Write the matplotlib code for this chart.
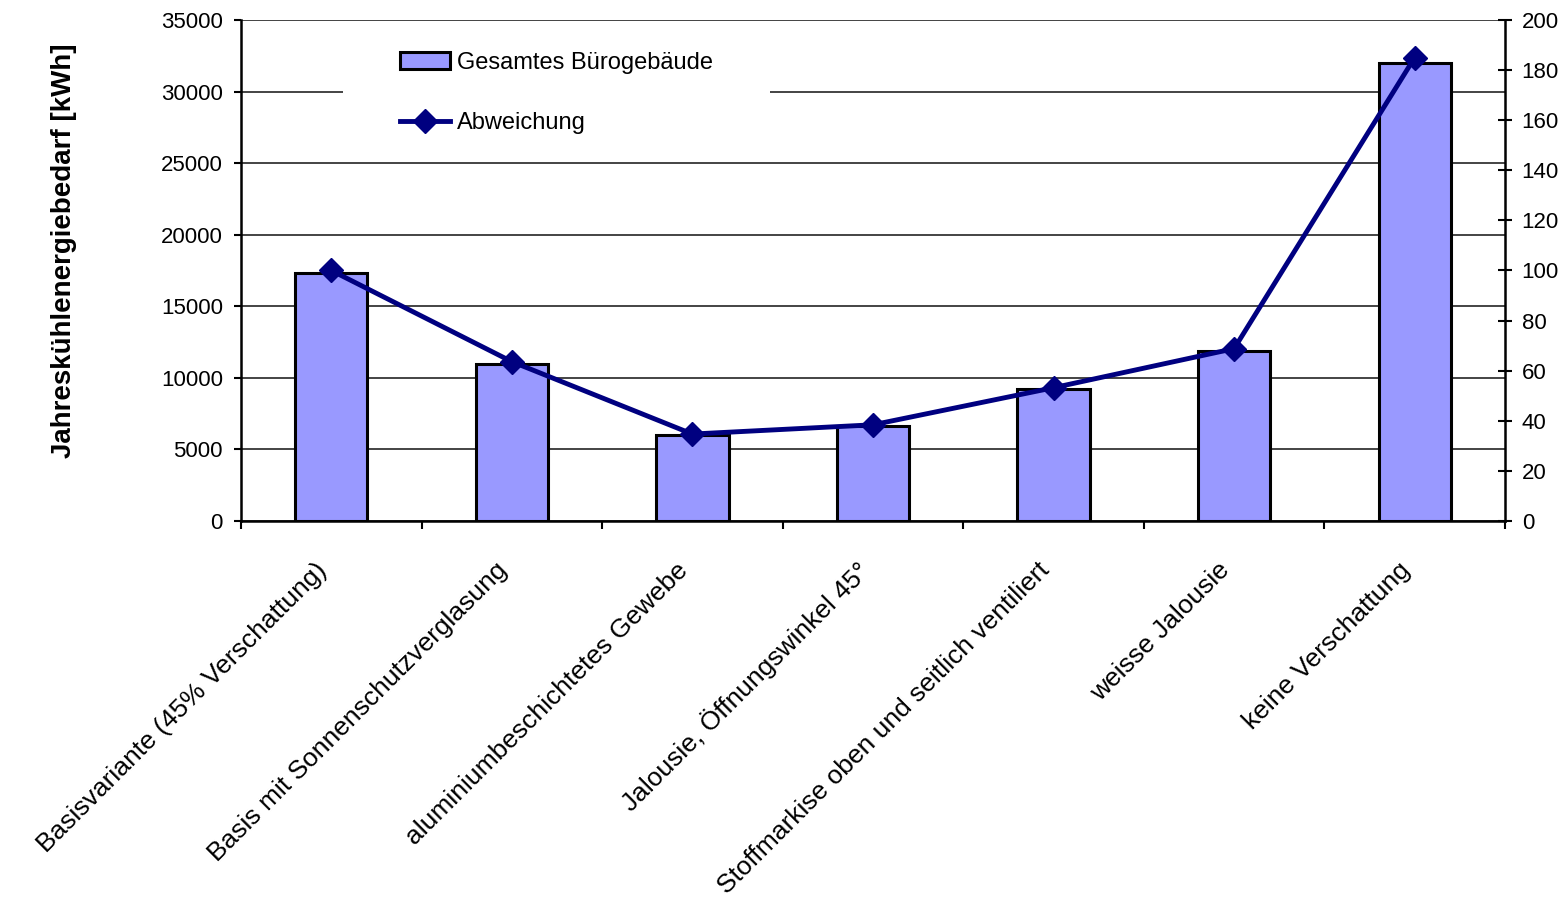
import matplotlib.pyplot as plt
import matplotlib.transforms as mtransforms
from matplotlib.patches import Rectangle
import numpy as np

plt.rcParams['font.family'] = ['Liberation Sans', 'DejaVu Sans']

# Varianten der Verschattung
varianten = ['Basisvariante (45% Verschattung)',
             'Basis mit Sonnenschutzverglasung',
             'aluminiumbeschichtetes Gewebe',
             'Jalousie, Öffnungswinkel 45°',
             'Stoffmarkise oben und seitlich ventiliert',
             'weisse Jalousie',
             'keine Verschattung']
# Jahreskühlenergiebedarf gesamtes Bürogebäude [kWh]
kuehlbedarf = [17300, 11000, 6000, 6650, 9200, 11900, 32000]
# Abweichung gegenüber Basisvariante [%]
abweichung = [100, 63.6, 34.7, 38.4, 53.2, 68.8, 185]

x = np.arange(len(varianten))

fig = plt.figure(figsize=(15.68, 9.07), dpi=100)
ax = fig.add_axes([0.1537, 0.4256, 0.8061, 0.5524])

ax.set_axisbelow(True)
ax.yaxis.grid(True, color='#111111', linewidth=1.1)
ax.bar(x, kuehlbedarf, width=0.4, color='#9999ff', edgecolor='black',
       linewidth=2.2, label='Gesamtes Bürogebäude', zorder=2)

ax.set_xlim(-0.5, len(varianten) - 0.5)
ax.set_ylim(0, 35000)
ax.set_yticks(np.arange(0, 35001, 5000))
ax.tick_params(axis='y', direction='out', length=5, width=1.5, labelsize=16, pad=8)

ax.set_xticks(x)
ax.set_xticklabels(varianten, rotation=45, ha='right', va='center',
                   rotation_mode='anchor', fontsize=19)
ax.tick_params(axis='x', which='major', length=0, pad=33)
shift = mtransforms.ScaledTranslation(-8 / 100, 0, fig.dpi_scale_trans)
for lbl in ax.get_xticklabels():
    lbl.set_transform(lbl.get_transform() + shift)
ax.set_xticks(np.arange(-0.5, len(varianten)), minor=True)
ax.tick_params(axis='x', which='minor', direction='out', length=6, width=1.5)

for side in ['left', 'bottom']:
    ax.spines[side].set_linewidth(1.8)
ax.spines['top'].set_visible(False)
ax.spines['right'].set_visible(False)

ax.set_ylabel('Jahreskühlenergiebedarf [kWh]', fontsize=20, fontweight='bold')
ax.yaxis.set_label_coords(-0.13, 0.54)

ax2 = ax.twinx()
ax2.plot(x, abweichung, color='#000080', linewidth=3.5, marker='D',
         markersize=12, label='Abweichung', zorder=3)
ax2.set_ylim(0, 200)
ax2.set_yticks(np.arange(0, 201, 20))
ax2.tick_params(axis='y', direction='inout', length=10, width=1.5,
                labelsize=16, pad=7)
ax2.spines['right'].set_linewidth(1.8)
for side in ['left', 'top', 'bottom']:
    ax2.spines[side].set_visible(False)

# weisser Hintergrund hinter der Legende
ax2.add_patch(Rectangle((0.0807, 0.74), 0.3378, 0.24, transform=ax2.transAxes,
                        facecolor='white', edgecolor='none', zorder=4))

h1, l1 = ax.get_legend_handles_labels()
h2, l2 = ax2.get_legend_handles_labels()
leg = ax2.legend(h1 + h2, l1 + l2, loc='upper left', bbox_to_anchor=(0.1258, 0.937),
                 fontsize=17, frameon=False, handlelength=2.1, handletextpad=0.3,
                 labelspacing=1.65, borderpad=0, borderaxespad=0)
leg.set_zorder(5)

fig.savefig('out.png', dpi=100)
